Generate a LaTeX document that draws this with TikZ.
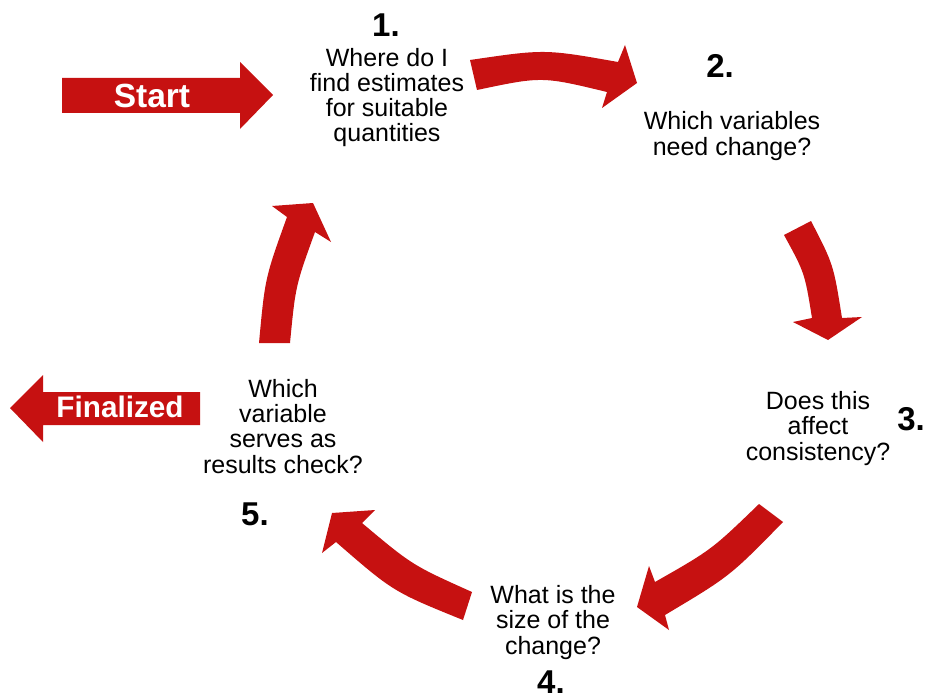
\documentclass[tikz,border=0pt]{standalone}
\usepackage{fontspec}
\setmainfont{Liberation Sans}
\definecolor{cyclered}{RGB}{198,17,17}

\begin{document}
\begin{tikzpicture}[x=1pt,y=-1pt,
  redshape/.style={fill=cyclered,draw=none},
  question/.style={align=center,anchor=base,inner sep=0pt,
    font=\fontsize{25}{25.3}\selectfont},
  stepnum/.style={anchor=base,inner sep=0pt,
    font=\fontsize{33}{36}\selectfont\bfseries},
  banner/.style={anchor=base,inner sep=0pt,text=white}]
\useasboundingbox (0,0) rectangle (928,698);

% entry and exit block arrows
\fill[redshape] (62,78) -- (240,78) -- (240,62) -- (273,95) -- (240,129)
  -- (240,113) -- (62,113) -- cycle;
\fill[redshape] (200,392) -- (43,392) -- (43,375) -- (10,408) -- (43,442)
  -- (43,425) -- (200,425) -- cycle;
\node[banner,font=\fontsize{33.5}{36}\selectfont\bfseries] (start) at (152,107) {Start};
\node[banner,font=\fontsize{29.7}{33}\selectfont\bfseries] (final) at (120,417) {Finalized};

% curved arrows of the cycle
\fill[redshape] (470,60) .. controls (544.7,49) .. (618,62) -- (625,45)
  -- (637,83) -- (602,108) -- (607,92) .. controls (542,76.3) .. (477,90) -- cycle;
\fill[redshape] (784,235) .. controls (804.7,272.8) .. (812,318) -- (793,322)
  -- (828,340) -- (862,317) -- (842,318) .. controls (833.5,264.5) .. (811,221) -- cycle;
\fill[redshape] (759,504) .. controls (711.7,549.7) .. (655,582) -- (649,566)
  -- (637,607) -- (669,630) -- (665,615) .. controls (730,576.2) .. (783,522) -- cycle;
\fill[redshape] (472,592) .. controls (412.3,565.2) .. (362,523) -- (375,510)
  -- (332,513) -- (322,553) -- (336,542) .. controls (393.2,591.7) .. (463,620) -- cycle;
\fill[redshape] (259,343) .. controls (265,278) .. (287,217) -- (272,206)
  -- (313,203) -- (331,242) -- (315,232) .. controls (295.5,285.8) .. (290,343) -- cycle;

% step numbers
\node[stepnum] (n1) at (386,37) {1.};
\node[stepnum] (n2) at (720,78) {2.};
\node[stepnum] (n3) at (911,430) {3.};
\node[stepnum] (n4) at (551,693) {4.};
\node[stepnum] (n5) at (255,525) {5.};

% questions (anchored at the baseline of the last line)
\node[question] (q1) at (387,142) {Where do I\\find estimates\\for suitable\\quantities};
\node[question] (q2) at (732,155) {Which variables\\need change?};
\node[question] (q3) at (818,460) {Does this\\affect\\consistency?};
\node[question] (q4) at (553,654) {What is the\\size of the\\change?};
\node[question] (q5) at (283,473) {Which\\variable\\serves as\\results check?};
\end{tikzpicture}
\end{document}
